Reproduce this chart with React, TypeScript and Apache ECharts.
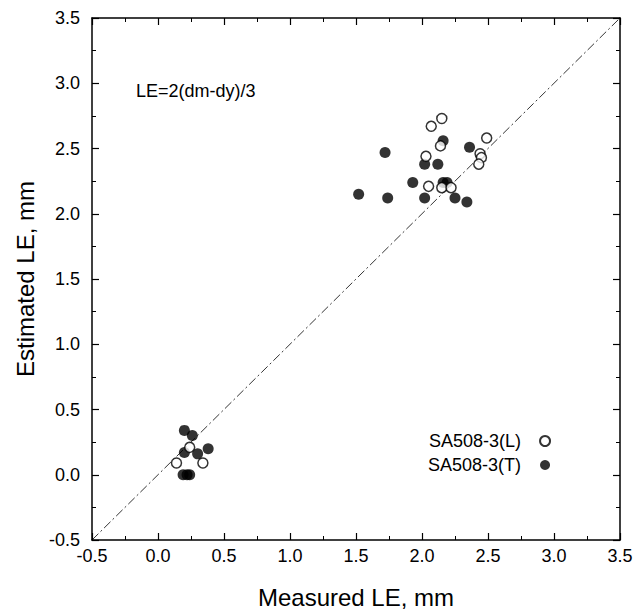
import React, { useEffect, useRef } from "react";
import * as echarts from "echarts";

const measuredL = [2.15, 2.07, 2.49, 2.14, 2.03, 2.44, 2.45, 2.43, 2.05, 2.15, 2.22, 0.14, 0.24, 0.34];
const estimatedL = [2.73, 2.67, 2.58, 2.52, 2.44, 2.46, 2.43, 2.38, 2.21, 2.2, 2.2, 0.09, 0.21, 0.09];
const measuredT = [1.52, 1.72, 1.74, 1.93, 2.02, 2.02, 2.12, 2.16, 2.16, 2.19, 2.25, 2.34, 2.36, 0.2, 0.26, 0.2, 0.3, 0.38, 0.19, 0.22, 0.24];
const estimatedT = [2.15, 2.47, 2.12, 2.24, 2.38, 2.12, 2.38, 2.56, 2.24, 2.24, 2.12, 2.09, 2.51, 0.34, 0.3, 0.17, 0.16, 0.2, 0.0, 0.0, 0.0];
const diagonal = [-0.5, 3.5];
const seriesNames = ["SA508-3(L)", "SA508-3(T)"];
const formulaText = "LE=2(dm-dy)/3";

const FONT = "Liberation Sans, Arial, sans-serif";

export default function App() {
  const ref = useRef<HTMLDivElement>(null);
  useEffect(() => {
    const chart = echarts.init(ref.current!, undefined, { renderer: "svg" });
    const axisCommon = {
      type: "value",
      min: -0.5,
      max: 3.5,
      interval: 0.5,
      axisLine: { show: true, onZero: false, lineStyle: { color: "#000", width: 1.5 } },
      axisTick: { show: true, inside: true, length: 7, lineStyle: { color: "#000", width: 1.2 } },
      minorTick: { show: true, splitNumber: 2, length: 4, lineStyle: { color: "#000", width: 1 } },
      splitLine: { show: false },
    };
    const labelStyle = { color: "#000", fontSize: 18, fontFamily: FONT, formatter: (v: number) => v.toFixed(1) };
    chart.setOption({
      animation: false,
      backgroundColor: "#fff",
      grid: { left: 92, right: 16, top: 18, bottom: 67, containLabel: false },
      xAxis: [
        {
          ...axisCommon,
          position: "bottom",
          axisLabel: { ...labelStyle, margin: 7 },
          name: "Measured LE, mm",
          nameLocation: "middle",
          nameGap: 45,
          nameTextStyle: { color: "#000", fontSize: 24, fontFamily: FONT },
        },
        { ...axisCommon, position: "top", axisLabel: { show: false } },
      ],
      yAxis: [
        {
          ...axisCommon,
          position: "left",
          axisLabel: { ...labelStyle, margin: 12 },
          name: "Estimated LE, mm",
          nameLocation: "middle",
          nameGap: 55,
          nameTextStyle: { color: "#000", fontSize: 24, fontFamily: FONT },
        },
        { ...axisCommon, position: "right", axisLabel: { show: false } },
      ],
      legend: {
        orient: "vertical",
        align: "right",
        left: 423,
        top: 427,
        itemGap: 6,
        itemWidth: 10,
        itemHeight: 10,
        icon: "circle",
        textStyle: { color: "#000", fontSize: 18, fontFamily: FONT, padding: [0, 14, 0, 0] },
        data: seriesNames,
      },
      graphic: [
        {
          type: "text",
          left: 136,
          top: 82,
          style: { text: formulaText, fill: "#000", fontSize: 18, fontFamily: FONT },
        },
      ],
      series: [
        {
          type: "line",
          data: diagonal.map((v) => [v, v]),
          showSymbol: false,
          symbol: "none",
          lineStyle: { color: "#000", width: 0.8, type: [9, 3, 2, 3] },
          silent: true,
          z: 1,
        },
        {
          name: seriesNames[0],
          type: "scatter",
          data: measuredL.map((x, i) => [x, estimatedL[i]]),
          symbol: "circle",
          symbolSize: 10,
          itemStyle: { color: "#fff", borderColor: "#000", borderWidth: 1.5 },
          z: 3,
        },
        {
          name: seriesNames[1],
          type: "scatter",
          data: measuredT.map((x, i) => [x, estimatedT[i]]),
          symbol: "circle",
          symbolSize: 11,
          itemStyle: { color: "#000" },
          z: 2,
        },
      ],
    });
    return () => chart.dispose();
  }, []);
  return (
    <div
      ref={ref}
      style={{ position: "absolute", left: 0, top: 0, width: 636, height: 614 }}
    />
  );
}
